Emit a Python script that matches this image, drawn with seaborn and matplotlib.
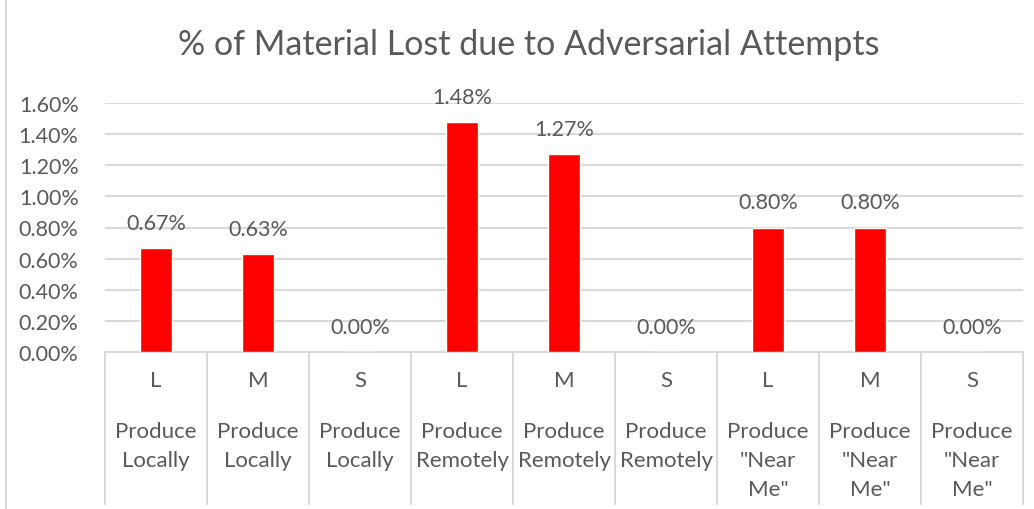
import matplotlib
matplotlib.use("Agg")
import matplotlib.pyplot as plt
import seaborn as sns
import pandas as pd
from matplotlib.ticker import PercentFormatter
from matplotlib.lines import Line2D

sizes = ["L", "M", "S", "L", "M", "S", "L", "M", "S"]
groups = ["Produce\nLocally"] * 3 + ["Produce\nRemotely"] * 3 + ["Produce\n\"Near\nMe\""] * 3
lost = [0.0067, 0.0063, 0.0, 0.0148, 0.0127, 0.0, 0.0080, 0.0080, 0.0]

df = pd.DataFrame({"pos": range(len(lost)), "lost": lost})

sns.set_style("white")
plt.rcParams["font.family"] = ["Lato", "DejaVu Sans"]
grey_txt = "#595959"
grid_c = "#d9d9d9"

fig = plt.figure(figsize=(10.34, 5.10), dpi=100)
ax = fig.add_axes([105 / 1034, 157 / 510, 918 / 1034, 249 / 510])

sns.barplot(data=df, x="pos", y="lost", color="#ff0000", width=0.31,
            saturation=1, ax=ax, zorder=3)

ax.set_xlim(-0.5, len(lost) - 0.5)
ax.set_ylim(0, 0.016)
ax.set_yticks([i * 0.002 for i in range(9)])
ax.yaxis.set_major_formatter(PercentFormatter(1.0, decimals=2))
ax.tick_params(axis="y", labelsize=15.5, labelcolor=grey_txt, length=0, pad=19)
ax.set_xticks([])
ax.set_xlabel("")
ax.set_ylabel("")
ax.grid(axis="y", color=grid_c, linewidth=1.5, zorder=0)
for s in ["top", "right", "left"]:
    ax.spines[s].set_visible(False)
ax.spines["bottom"].set_color(grid_c)
ax.spines["bottom"].set_linewidth(1.5)

# data labels
for p, v in zip(df["pos"], df["lost"]):
    ax.annotate(f"{v * 100:.2f}%", (p, v), xytext=(0, 18), textcoords="offset points",
                ha="center", va="center", fontsize=15.5, color=grey_txt)

# category table below the axis
tr = ax.get_xaxis_transform()
for p, (s, g) in enumerate(zip(sizes, groups)):
    ax.text(p, -0.112, s, transform=tr, ha="center", va="center",
            fontsize=16, color=grey_txt)
    for k, line in enumerate(g.split("\n")):
        ax.text(p, -0.317 - 0.117 * k, line, transform=tr, ha="center", va="center",
                fontsize=16, color=grey_txt)
for b in range(len(lost) + 1):
    ax.plot([b - 0.5, b - 0.5], [0, -0.61], transform=tr, color=grid_c,
            linewidth=1.5, clip_on=False)

fig.add_artist(Line2D([6 / 1034, 6 / 1034], [0, 1], transform=fig.transFigure,
                      color=grid_c, linewidth=1.5))

fig.suptitle("% of Material Lost due to Adversarial Attempts", x=0.511, y=1 - 45 / 510,
             va="center", fontsize=24.5, color=grey_txt)

fig.savefig("out.png", dpi=100)
